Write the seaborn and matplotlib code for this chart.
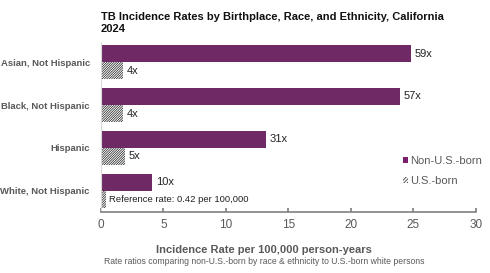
import matplotlib
matplotlib.use("Agg")
import matplotlib.pyplot as plt
import seaborn as sns
import pandas as pd
from matplotlib.patches import Patch

categories = ["Asian, Not Hispanic", "Black, Not Hispanic", "Hispanic", "White, Not Hispanic"]
non_us_born = [24.8, 23.9, 13.2, 4.1]
us_born = [1.8, 1.8, 1.9, 0.42]
non_us_labels = ["59x", "57x", "31x", "10x"]
us_labels = ["4x", "4x", "5x", "Reference rate: 0.42 per 100,000"]
groups = ["Non-U.S.-born", "U.S.-born"]

purple = "#7A1E6C"
gray = "#595959"

df = pd.DataFrame({
    "cat": categories * 2,
    "rate": non_us_born + us_born,
    "birth": [groups[0]] * 4 + [groups[1]] * 4,
})

sns.set_theme(style="white")
plt.rcParams["font.family"] = ["Liberation Sans", "DejaVu Sans"]
plt.rcParams["hatch.linewidth"] = 0.5

fig = plt.figure(figsize=(4.9, 2.73), dpi=100)
ax = fig.add_axes([0.206, 0.223, 0.765, 0.623])

sns.barplot(data=df, y="cat", x="rate", hue="birth", orient="h",
            palette=[purple, "white"], order=categories, hue_order=groups,
            width=0.8, linewidth=0, ax=ax, legend=False)

HATCH = "/" * 14
for p in ax.containers[1]:
    p.set_facecolor("white")
    p.set_edgecolor("#1a1a1a")
    p.set_hatch(HATCH)
    p.set_linewidth(0)

for cont, labels in zip(ax.containers, [non_us_labels, us_labels]):
    for p, lab in zip(cont, labels):
        y = p.get_y() + p.get_height() / 2
        ref = lab.startswith("Reference")
        fs = 6.8 if ref else 8
        off = 0.25 if ref else 0.3
        ax.text(p.get_width() + off, y, lab, va="center", ha="left",
                fontsize=fs, color="#222222")

ax.set_xlim(0, 30)
ax.set_ylim(3.5, -0.47)
ax.set_xticks([0, 5, 10, 15, 20, 25, 30])
ax.tick_params(axis="x", direction="in", length=3, color="#808080",
               labelsize=8.5, labelcolor=gray, pad=5, bottom=True)
ax.tick_params(axis="y", length=0, labelsize=6.8, labelcolor=gray, pad=8)
for lbl in ax.get_yticklabels():
    lbl.set_fontweight("bold")
ax.set_xlabel("")
ax.set_ylabel("")
for s in ["top", "right"]:
    ax.spines[s].set_visible(False)
ax.spines["bottom"].set_color("#808080")
ax.spines["bottom"].set_linewidth(1.2)
ax.spines["left"].set_color("#D9D9D9")
ax.spines["left"].set_linewidth(0.8)

fig.text(0.206, 0.916, "TB Incidence Rates by Birthplace, Race, and Ethnicity, California\n2024",
         ha="left", va="center", fontsize=8, fontweight="bold", color="#111111",
         linespacing=1.15)

fig.text(0.539, 0.085, "Incidence Rate per 100,000 person-years", ha="center", va="center",
         fontsize=8, fontweight="bold", color=gray)
fig.text(0.539, 0.043, "Rate ratios comparing non-U.S.-born by race & ethnicity to U.S.-born white persons",
         ha="center", va="center", fontsize=6.2, color=gray)

handles = [Patch(facecolor=purple, edgecolor="none"),
           Patch(facecolor="white", edgecolor="#1a1a1a", hatch="/" * 10, linewidth=0)]
leg = ax.legend(handles, groups, loc="upper left", bbox_to_anchor=(0.805, 0.33),
                frameon=False, fontsize=8, handlelength=0.5, handleheight=0.5,
                handletextpad=0.2, labelspacing=0.9, borderaxespad=0, borderpad=0)
for t in leg.get_texts():
    t.set_color(gray)

fig.savefig("out.png", dpi=100)
